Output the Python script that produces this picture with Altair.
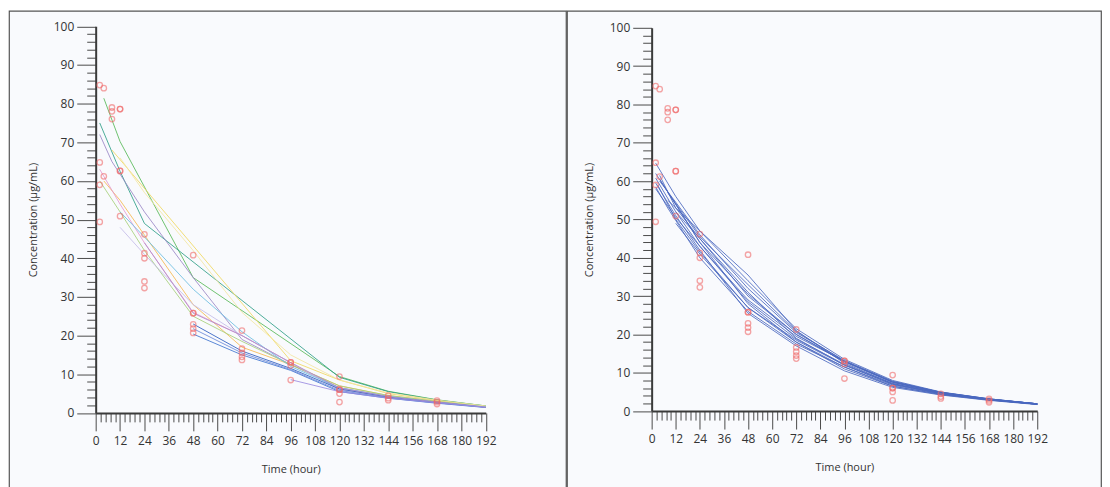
import altair as alt
import pandas as pd

# ---------------- observed concentrations (same in both panels) ----------------
obs_time = [2, 2, 2, 2, 4, 4, 8, 8, 8, 12, 12, 12, 12, 12,
            24, 24, 24, 24, 24, 48, 48, 48, 48, 48, 48,
            72, 72, 72, 72, 72, 96, 96, 96, 96,
            120, 120, 120, 120, 120, 144, 144, 144, 168, 168, 168]
obs_conc = [84.8, 64.8, 59.0, 49.4, 84.0, 61.2, 79.0, 78.0, 76.0, 78.6, 78.6, 62.6, 62.6, 50.9,
            46.2, 41.3, 40.0, 34.0, 32.3, 40.8, 25.8, 25.8, 22.9, 21.8, 20.7,
            21.3, 16.6, 15.5, 14.5, 13.7, 13.1, 13.1, 12.3, 8.5,
            9.4, 6.0, 6.0, 5.0, 2.8, 4.5, 3.8, 3.3, 3.2, 2.8, 2.3]

# ---------------- left panel: individual curves ----------------
left_ids = ["L01", "L02", "L03", "L04", "L05", "L06", "L07", "L08",
            "L09", "L10", "L11", "L12", "L13", "L14", "L15"]
left_times = [
    [4, 12, 48, 120, 144, 168, 192],
    [2, 12, 24, 120, 144, 168, 192],
    [2, 8, 24, 48, 72, 96, 120, 144, 168, 192],
    [8, 96, 120, 144, 168, 192],
    [4, 12, 24, 48, 72, 96, 120, 144, 168, 192],
    [2, 12, 24, 48, 72, 96, 120, 144, 168, 192],
    [2, 12, 24, 48, 72, 96, 120, 144, 168, 192],
    [12, 24, 48, 72, 96, 120, 144, 168, 192],
    [12, 24, 48, 72, 96, 120, 144, 168, 192],
    [48, 72, 96, 120, 144, 168, 192],
    [48, 72, 96, 120, 144, 168, 192],
    [48, 72, 96, 120, 144, 168, 192],
    [24, 48, 72, 96, 120, 144, 168, 192],
    [96, 120, 144, 168, 192],
    [12, 24, 48, 72, 96, 120, 144, 168, 192],
]
left_conc = [
    [81.4, 70.2, 35.0, 9.4, 5.6, 3.4, 1.8],
    [75.0, 62.5, 49.0, 9.2, 5.5, 3.3, 1.8],
    [72.0, 65.0, 52.0, 35.0, 19.0, 12.5, 6.5, 4.2, 2.8, 1.6],
    [68.0, 13.5, 8.5, 5.0, 3.2, 1.7],
    [60.0, 55.0, 46.0, 28.0, 17.0, 12.5, 7.0, 4.5, 3.0, 1.6],
    [63.0, 54.0, 44.0, 26.0, 20.0, 13.0, 6.0, 4.2, 2.8, 1.5],
    [60.0, 52.0, 42.0, 25.0, 18.5, 12.5, 7.0, 4.5, 3.0, 1.6],
    [48.0, 41.0, 28.0, 20.0, 13.0, 6.0, 4.0, 2.7, 1.5],
    [52.0, 45.5, 32.0, 21.0, 12.0, 6.5, 4.3, 2.8, 1.6],
    [23.0, 16.0, 11.5, 6.2, 4.1, 2.7, 1.5],
    [20.4, 15.0, 11.0, 5.5, 3.8, 2.5, 1.4],
    [21.8, 15.5, 11.2, 5.8, 3.9, 2.6, 1.45],
    [44.0, 25.8, 20.0, 13.0, 6.5, 4.2, 2.8, 1.5],
    [8.6, 5.5, 3.8, 2.6, 1.5],
    [66.0, 57.0, 42.0, 26.0, 15.0, 8.5, 5.2, 3.3, 1.8],
]
left_colors = ["#56b856", "#2e9e86", "#9a86c6", "#f0d860", "#f6b850", "#e49ad0",
               "#a6d07a", "#c4bce8", "#6cbde0", "#2c5cc0", "#3f74d0", "#6a88d8",
               "#b48cc8", "#9a8ae0", "#f3e6a0"]

# ---------------- right panel: curves ----------------
right_ids = ["R01", "R02", "R03", "R04", "R05", "R06", "R07",
             "R08", "R09", "R10", "R11", "R12", "R13", "R14"]
right_times = [
    [2, 12, 24, 48, 72, 96, 120, 144, 168, 192],
    [2, 12, 24, 48, 72, 96, 120, 144, 168, 192],
    [3, 12, 24, 48, 72, 96, 120, 144, 168, 192],
    [4, 12, 24, 48, 72, 96, 120, 144, 168, 192],
    [2, 8, 24, 48, 72, 96, 120, 144, 168, 192],
    [12, 24, 48, 72, 96, 120, 144, 168, 192],
    [4, 12, 24, 48, 72, 96, 120, 144, 168, 192],
    [2, 12, 24, 48, 72, 96, 120, 144, 168, 192],
    [8, 24, 48, 72, 96, 120, 144, 168, 192],
    [2, 12, 24, 48, 72, 96, 120, 144, 168, 192],
    [4, 24, 48, 72, 96, 120, 144, 168, 192],
    [12, 24, 48, 72, 96, 120, 144, 168, 192],
    [2, 12, 24, 48, 72, 96, 120, 144, 168, 192],
    [8, 24, 48, 72, 96, 120, 144, 168, 192],
]
right_conc = [
    [64.7, 56.0, 47.0, 34.0, 21.5, 13.5, 8.0, 5.0, 3.2, 1.9],
    [60.8, 52.0, 43.0, 29.0, 19.5, 13.0, 7.5, 4.8, 3.1, 1.9],
    [59.0, 50.0, 41.5, 27.0, 18.5, 12.0, 7.0, 4.6, 3.0, 1.8],
    [61.5, 53.0, 45.0, 30.0, 20.0, 13.0, 7.6, 4.9, 3.1, 1.9],
    [58.5, 53.0, 40.0, 26.0, 17.5, 11.5, 6.8, 4.5, 3.0, 1.8],
    [49.0, 41.0, 27.0, 18.0, 11.5, 6.5, 4.4, 2.9, 1.8],
    [60.0, 54.5, 46.0, 32.0, 20.5, 13.2, 7.8, 4.9, 3.2, 1.9],
    [62.0, 54.0, 44.0, 28.0, 18.0, 11.0, 6.5, 4.3, 2.9, 1.8],
    [55.0, 47.0, 35.5, 21.0, 12.5, 7.2, 4.7, 3.1, 1.9],
    [59.5, 51.0, 42.0, 25.5, 17.0, 10.5, 6.2, 4.2, 2.8, 1.7],
    [60.5, 44.0, 30.5, 20.0, 12.8, 7.5, 4.8, 3.1, 1.9],
    [52.0, 45.0, 31.0, 19.0, 12.0, 7.0, 4.6, 3.0, 1.8],
    [58.0, 50.5, 43.0, 28.5, 18.8, 12.2, 7.2, 4.6, 3.0, 1.8],
    [57.0, 45.5, 33.0, 20.8, 13.0, 7.7, 4.9, 3.2, 1.9],
]
right_colors = ["#4a68bf"] * len(right_ids)

# ---------------- axis tick labels ----------------
x_major = [0, 12, 24, 36, 48, 60, 72, 84, 96, 108, 120, 132, 144, 156, 168, 180, 192]
y_major = [0, 10, 20, 30, 40, 50, 60, 70, 80, 90, 100]
x_ticks = [round(x_major[0] + i * 2.4, 4) for i in range(81)]
y_ticks = [float(v) for v in range(0, 101, 2)]

FONT = "Open Sans"
X_MAJOR_TEST = "abs(datum.value/12 - round(datum.value/12)) < 0.001"
Y_MAJOR_TEST = "abs(datum.value/10 - round(datum.value/10)) < 0.001"


def long_table(ids, times, concs):
    rows = []
    for sid, ts, cs in zip(ids, times, concs):
        for k, (t, c) in enumerate(zip(ts, cs)):
            rows.append({"id": sid, "t": t, "c": c, "k": k})
    return pd.DataFrame(rows)


obs_df = pd.DataFrame({"t": obs_time, "c": obs_conc})


def panel(ids, times, concs, colors, xr, yr, w, h):
    df = long_table(ids, times, concs)
    xs = alt.Scale(domain=[0, 192], range=xr, nice=False, zero=False)
    ys = alt.Scale(domain=[0, 100], range=yr, nice=False, zero=False)
    xaxis = alt.Axis(
        values=x_ticks, format="d", title="Time (hour)", orient="bottom",
        labelExpr=X_MAJOR_TEST + " ? datum.label : ''",
        tickSize={"condition": {"test": X_MAJOR_TEST, "value": 18}, "value": 9},
        labelOverlap=False, labelFlush=False, labelPadding=5,
        offset=yr[0] - h, grid=False, titlePadding=17,
    )
    yaxis = alt.Axis(
        values=y_ticks, format="d", title="Concentration (µg/mL)", orient="left",
        labelExpr=Y_MAJOR_TEST + " ? datum.label : ''",
        tickSize={"condition": {"test": Y_MAJOR_TEST, "value": 19}, "value": 9},
        labelOverlap=False, labelFlush=False, labelPadding=3,
        offset=-xr[0], grid=False, titlePadding=15,
    )
    lines = alt.Chart(df).mark_line(strokeWidth=1, opacity=0.85).encode(
        x=alt.X("t:Q", scale=xs, axis=xaxis),
        y=alt.Y("c:Q", scale=ys, axis=yaxis),
        color=alt.Color("id:N", scale=alt.Scale(domain=ids, range=colors), legend=None),
        detail="id:N",
        order="k:Q",
    )
    pts = alt.Chart(obs_df).mark_point(shape="circle", filled=False, size=30,
                                       strokeWidth=1.3, color="#f06a6a", opacity=0.6).encode(
        x=alt.X("t:Q", scale=xs, axis=xaxis),
        y=alt.Y("c:Q", scale=ys, axis=yaxis),
    )
    return alt.layer(lines, pts).properties(
        width=w, height=h,
        view=alt.ViewBackground(fill="#f9fafd", stroke="#555555", strokeWidth=1.2),
    )


left = panel(left_ids, left_times, left_conc, left_colors,
             [87, 478.5], [403.5, 15.5], 559, 480)
right = panel(right_ids, right_times, right_conc, right_colors,
              [85, 472], [401.7, 17], 536, 480)

chart = alt.hconcat(left, right, spacing=-1.2).resolve_scale(color="independent").properties(
    padding={"left": 0, "top": 1, "right": 0, "bottom": 0},
    background="white",
).configure_axis(
    labelFont=FONT, labelFontSize=12, labelColor="#333333",
    titleFont=FONT, titleFontSize=11, titleFontWeight="normal", titleColor="#333333",
    domainColor="#3a3a3a", domainWidth=2, tickColor="#4a4a4a", tickWidth=1,
)

chart.save("out.html", embed_options={"renderer": "svg", "actions": False})
